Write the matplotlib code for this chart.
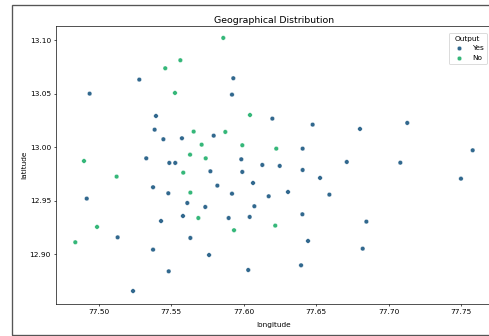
import matplotlib.pyplot as plt
import seaborn as sns
from matplotlib.patches import Rectangle

# points (longitude, latitude, output)
lon = [77.586, 77.5564, 77.5460, 77.5281, 77.5929, 77.4939, 77.5527, 77.5920,
       77.5396, 77.6044, 77.6198, 77.5387, 77.5656, 77.5874, 77.5447, 77.5575,
       77.5794, 77.5711, 77.5991, 77.6225, 77.4900, 77.5329, 77.5631, 77.5739,
       77.5984, 77.5488, 77.5529, 77.6129, 77.6249, 77.5125, 77.5584, 77.5771,
       77.5991,
       77.6476, 77.6802, 77.7128, 77.6407, 77.7579, 77.6407, 77.6527, 77.6711,
       77.7080, 77.7498,
       77.5376, 77.5481, 77.5633, 77.5819, 77.6065, 77.5920, 77.6173, 77.4919,
       77.5612, 77.5736, 77.6074, 77.5431, 77.5582, 77.5688, 77.5897, 77.6042,
       77.6218, 77.4990, 77.5934, 77.4840, 77.5132, 77.5633, 77.5376, 77.5762,
       77.5484, 77.6032, 77.5238,
       77.6306, 77.6591, 77.6405, 77.6846, 77.6444, 77.6821, 77.6396]
lat = [13.102, 13.0812, 13.0737, 13.0631, 13.0644, 13.0500, 13.0507, 13.0491,
       13.0292, 13.0301, 13.0267, 13.0164, 13.0146, 13.0143, 13.0075, 13.0084,
       13.0108, 13.0024, 13.0019, 12.9987, 12.9872, 12.9897, 12.9931, 12.9897,
       12.9888, 12.9854, 12.9854, 12.9835, 12.9826, 12.9726, 12.9763, 12.9776,
       12.9770,
       13.0211, 13.0171, 13.0227, 12.9987, 12.9972, 12.9788, 12.9714, 12.9863,
       12.9856, 12.9707,
       12.9627, 12.9571, 12.9577, 12.9642, 12.9667, 12.9567, 12.9543, 12.9521,
       12.9480, 12.9443, 12.9450, 12.9312, 12.9359, 12.9340, 12.9340, 12.9350,
       12.9269, 12.9257, 12.9226, 12.9114, 12.9160, 12.9154, 12.9045, 12.8995,
       12.8843, 12.8855, 12.8659,
       12.9583, 12.9558, 12.9375, 12.9306, 12.9126, 12.9054, 12.8899]
output = ['No', 'No', 'No', 'Yes', 'Yes', 'Yes', 'No', 'Yes',
          'Yes', 'No', 'Yes', 'Yes', 'No', 'No', 'Yes', 'Yes',
          'Yes', 'No', 'No', 'No', 'No', 'Yes', 'No', 'No',
          'Yes', 'Yes', 'Yes', 'Yes', 'Yes', 'No', 'No', 'Yes',
          'Yes',
          'Yes', 'Yes', 'Yes', 'Yes', 'Yes', 'Yes', 'Yes', 'Yes',
          'Yes', 'Yes',
          'Yes', 'Yes', 'No', 'Yes', 'Yes', 'Yes', 'Yes', 'Yes',
          'Yes', 'Yes', 'Yes', 'Yes', 'Yes', 'No', 'Yes', 'Yes',
          'No', 'No', 'No', 'No', 'Yes', 'Yes', 'Yes', 'Yes',
          'Yes', 'Yes', 'Yes',
          'Yes', 'Yes', 'Yes', 'Yes', 'Yes', 'Yes', 'Yes']

fig = plt.figure(figsize=(8.15, 5.6), dpi=60)
# axes runs past the right edge of the picture (the reference is cropped)
ax = fig.add_axes([0.1145, 0.0943, 0.8955, 0.8292])

sns.scatterplot(x=lon, y=lat, hue=output, hue_order=['Yes', 'No'],
                palette='viridis', s=30, ax=ax)

ax.set_xlim(77.4707, 77.7725)
ax.set_ylim(12.8535, 13.1134)
ax.set_xticks([77.50, 77.55, 77.60, 77.65, 77.70, 77.75])
ax.set_yticks([12.90, 12.95, 13.00, 13.05, 13.10])
ax.tick_params(labelsize=8.8, length=2.5, width=0.8)
for sp in ax.spines.values():
    sp.set_linewidth(0.8)
ax.spines['right'].set_visible(False)
ax.set_xlabel('longitude', fontsize=8.8, labelpad=2)
ax.xaxis.set_label_coords(0.497, -0.065)
ax.set_ylabel('latitude', fontsize=8.8, labelpad=3)
ax.set_title('Geographical Distribution', fontsize=11.3, pad=3, x=0.497)
leg = ax.legend(title='Output', fontsize=8.8, title_fontsize=8.8,
                loc='upper right', bbox_to_anchor=(0.992, 0.988))

# frame of the screenshot
fig.patches.append(Rectangle((12 / 489, 1 / 336), 1.2, 330 / 336,
                             transform=fig.transFigure, fill=False,
                             edgecolor='#555555', linewidth=1.6))

fig.savefig('out.png', dpi=60)
